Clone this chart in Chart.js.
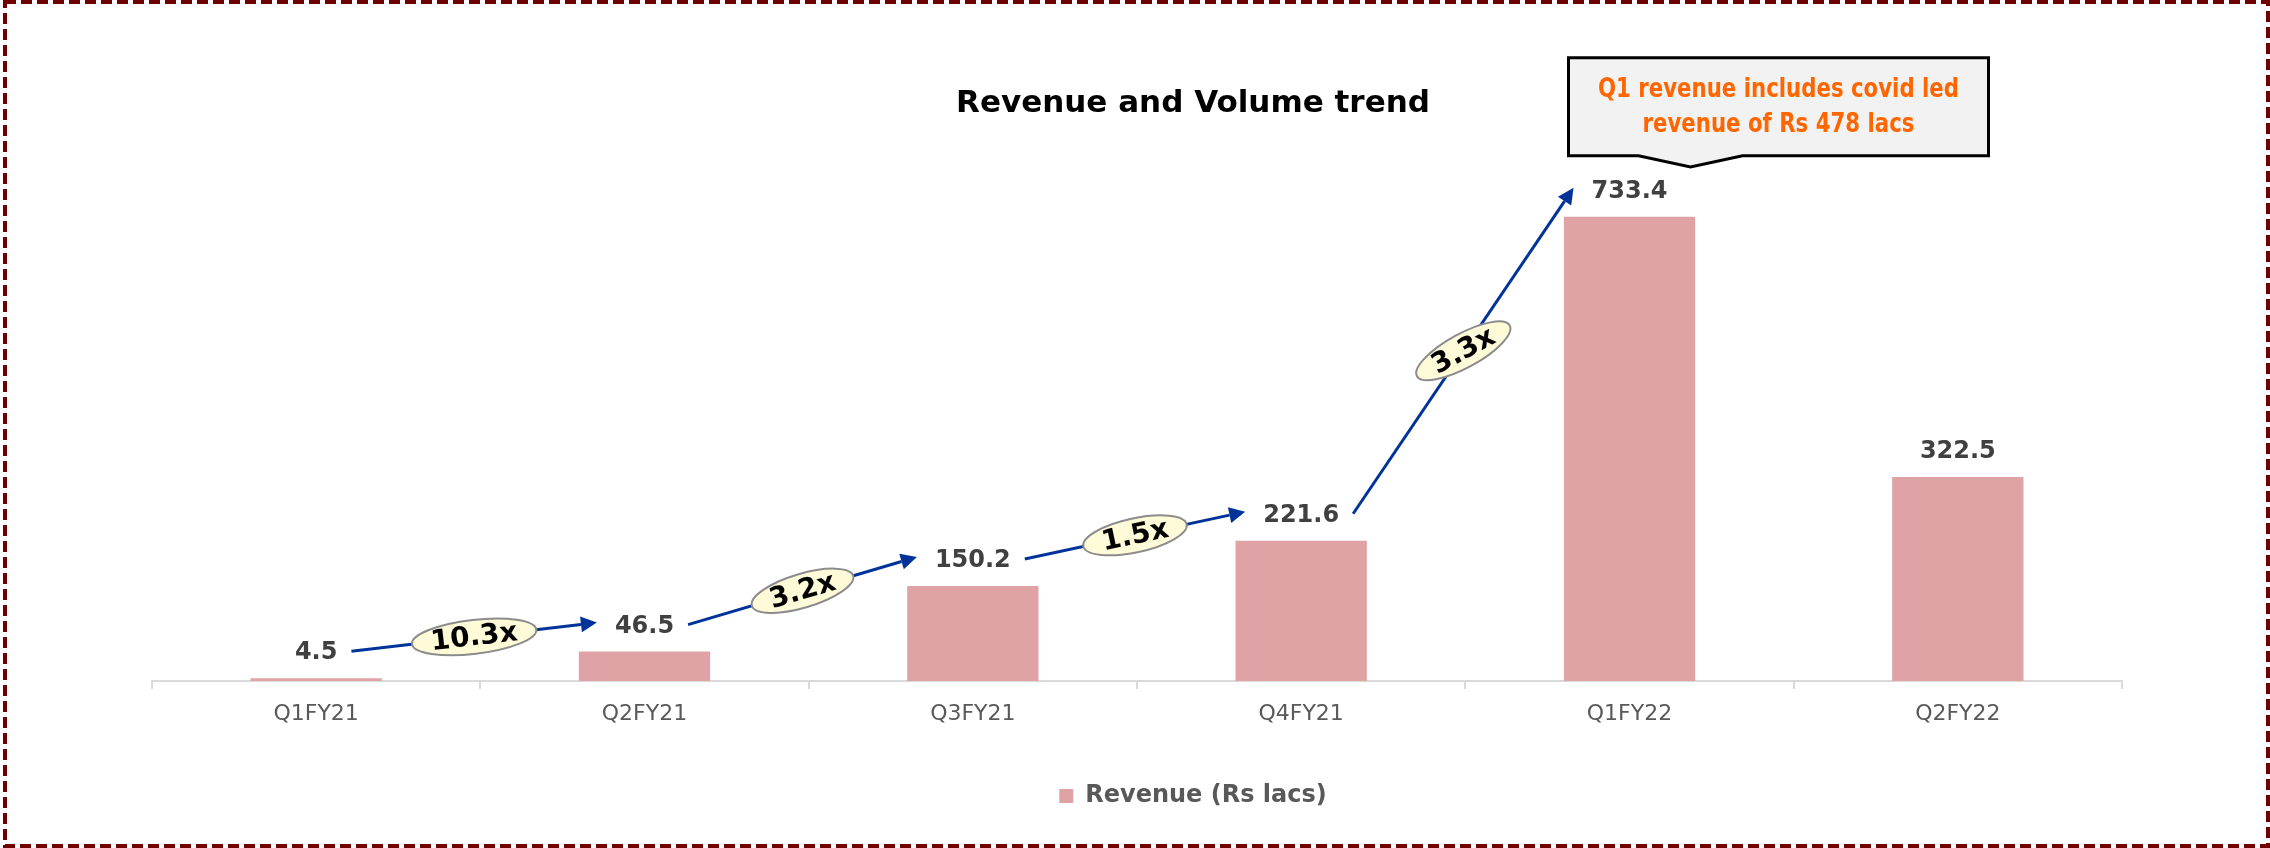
<!DOCTYPE html>
<html>
<head>
<meta charset="utf-8">
<title>Revenue and Volume trend</title>
<script src="https://cdn.jsdelivr.net/npm/chart.js@4.4.0/dist/chart.umd.min.js"></script>
<style>
    html, body { margin: 0; padding: 0; background: #ffffff; }
    canvas { display: block; }
</style>
</head>
<body>
<canvas id="revenueChart" width="2270" height="848"></canvas>
<script>
// data
const quarters = ['Q1FY21', 'Q2FY21', 'Q3FY21', 'Q4FY21', 'Q1FY22', 'Q2FY22'];
const revenue = [4.5, 46.5, 150.2, 221.6, 733.4, 322.5];
const growthLabels = ['10.3x', '3.2x', '1.5x', '3.3x'];
const calloutLines = ['Q1 revenue includes covid led', 'revenue of Rs 478 lacs'];
const calloutIndex = 4;

const barColor = '#DFA3A5';
const arrowColor = '#003399';

// dashed maroon frame round the whole picture
const framePlugin = {
    id: 'frame',
    afterDraw(chart) {
        const ctx = chart.ctx;
        ctx.save();
        ctx.strokeStyle = '#700000';
        ctx.lineWidth = 4;
        ctx.setLineDash([11, 5]);
        ctx.strokeRect(5, 2, chart.width - 7, chart.height - 4);
        ctx.restore();
    }
};

function drawArrow(ctx, x1, y1, x2, y2) {
    var ang = Math.atan2(y2 - y1, x2 - x1);
    var head = 16;
    var bx = x2 - Math.cos(ang) * head;
    var by = y2 - Math.sin(ang) * head;
    ctx.beginPath();
    ctx.moveTo(x1, y1);
    ctx.lineTo(bx, by);
    ctx.stroke();
    ctx.beginPath();
    ctx.moveTo(x2, y2);
    ctx.lineTo(bx + Math.sin(ang) * 8, by - Math.cos(ang) * 8);
    ctx.lineTo(bx - Math.sin(ang) * 8, by + Math.cos(ang) * 8);
    ctx.closePath();
    ctx.fill();
}

// value labels, growth arrows and the callout
const annotatePlugin = {
    id: 'annotate',
    afterDatasetsDraw(chart) {
        const ctx = chart.ctx;
        const bars = chart.getDatasetMeta(0).data;
        ctx.save();

        // value labels
        ctx.font = 'bold 24px "DejaVu Sans"';
        ctx.fillStyle = '#404040';
        ctx.textAlign = 'center';
        ctx.textBaseline = 'middle';
        var pos = [];
        for (var i = 0; i < bars.length; i++) {
            var txt = revenue[i].toFixed(1);
            var w = ctx.measureText(txt).width;
            var ly = bars[i].y - 25;
            ctx.fillText(txt, bars[i].x, ly);
            pos.push({ x: bars[i].x, y: ly, w: w });
        }

        // growth arrows with ellipse badges
        for (i = 0; i < growthLabels.length; i++) {
            var a = pos[i], b = pos[i + 1];
            var x1 = a.x + a.w / 2 + 14, y1 = a.y - 2;
            var x2 = b.x - b.w / 2 - 18, y2 = b.y - 4;
            ctx.strokeStyle = arrowColor;
            ctx.fillStyle = arrowColor;
            ctx.lineWidth = 3;
            drawArrow(ctx, x1, y1, x2, y2);

            var mx = (x1 + x2) / 2, my = (y1 + y2) / 2;
            var rot = Math.max(Math.atan2(y2 - y1, x2 - x1), -0.5);
            ctx.font = 'bold 28px "DejaVu Sans"';
            var tw = ctx.measureText(growthLabels[i]).width;
            ctx.save();
            ctx.translate(mx, my);
            ctx.rotate(rot);
            ctx.beginPath();
            ctx.ellipse(0, 0, tw / 2 + 19, 17, 0, 0, Math.PI * 2);
            ctx.fillStyle = '#FFFAD7';
            ctx.fill();
            ctx.strokeStyle = '#8C8C8C';
            ctx.lineWidth = 2;
            ctx.stroke();
            ctx.fillStyle = '#000000';
            ctx.fillText(growthLabels[i], 0, 1);
            ctx.restore();
        }

        // callout over the Q1FY22 bar
        var tipX = bars[calloutIndex].x + 61;
        var tipY = bars[calloutIndex].y - 50;
        var left = tipX - 122, right = tipX + 298;
        var bottom = tipY - 11, top = bottom - 98;
        ctx.beginPath();
        ctx.moveTo(left, top);
        ctx.lineTo(right, top);
        ctx.lineTo(right, bottom);
        ctx.lineTo(tipX + 52, bottom);
        ctx.lineTo(tipX, tipY);
        ctx.lineTo(tipX - 52, bottom);
        ctx.lineTo(left, bottom);
        ctx.closePath();
        ctx.fillStyle = '#F2F2F2';
        ctx.fill();
        ctx.strokeStyle = '#000000';
        ctx.lineWidth = 3;
        ctx.setLineDash([]);
        ctx.stroke();

        // narrow bold text, squeezed to the callout's width
        ctx.font = 'bold 27px "DejaVu Sans"';
        var sx = Math.min(1, 361 / ctx.measureText(calloutLines[0]).width);
        ctx.fillStyle = '#FF6600';
        var cx = (left + right) / 2;
        for (i = 0; i < calloutLines.length; i++) {
            ctx.save();
            ctx.translate(cx, top + 32 + i * 35);
            ctx.scale(sx, 1);
            ctx.fillText(calloutLines[i], 0, 0);
            ctx.restore();
        }

        ctx.restore();
    }
};

Chart.defaults.font.family = '"DejaVu Sans"';

const ctx = document.getElementById('revenueChart').getContext('2d');
const chart = new Chart(ctx, {
    type: 'bar',
    data: {
        labels: quarters,
        datasets: [{
            label: 'Revenue (Rs lacs)',
            data: revenue,
            backgroundColor: barColor,
            borderWidth: 0,
            barPercentage: 0.4,
            categoryPercentage: 1.0
        }]
    },
    options: {
        responsive: false,
        animation: false,
        devicePixelRatio: 1,
        layout: {
            padding: { left: 152, right: 36, top: 0, bottom: 30 }
        },
        scales: {
            x: {
                grid: {
                    display: true,
                    drawOnChartArea: false,
                    drawTicks: true,
                    tickLength: 8,
                    color: '#D9D9D9',
                    lineWidth: 2
                },
                border: { display: true, color: '#D9D9D9', width: 2 },
                ticks: {
                    color: '#595959',
                    font: { size: 22 },
                    padding: 12
                },
                afterFit: function (scale) { scale.height = 93; }
            },
            y: {
                position: 'right',
                min: 0,
                max: 883,
                grid: { display: false },
                border: { display: false },
                ticks: { display: false },
                afterFit: function (scale) { scale.width = 112; }
            }
        },
        plugins: {
            title: {
                display: true,
                text: 'Revenue and Volume trend',
                color: '#000000',
                font: { size: 31, weight: 'bold', lineHeight: 1.2 },
                padding: { top: 85, bottom: 0 }
            },
            legend: {
                position: 'bottom',
                labels: {
                    color: '#595959',
                    font: { size: 24, weight: 'bold' },
                    boxWidth: 14,
                    boxHeight: 14,
                    padding: 10
                }
            },
            tooltip: { enabled: false }
        }
    },
    plugins: [annotatePlugin, framePlugin]
});
</script>
</body>
</html>
